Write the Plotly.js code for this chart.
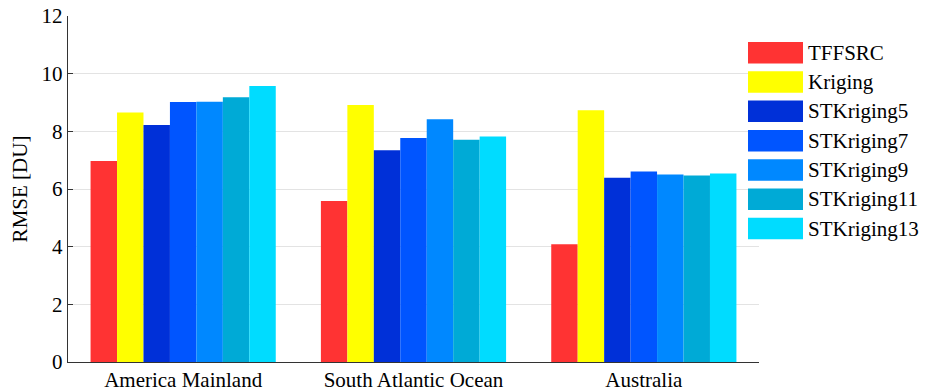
<!DOCTYPE html>
<html>
<head>
<meta charset="utf-8">
<script src="https://cdn.plot.ly/plotly-3.0.1.min.js"></script>
<style>
  html, body { margin: 0; padding: 0; background: #ffffff; }
  #chart { width: 932px; height: 390px; }
</style>
</head>
<body>
<div id="chart"></div>
<script>
// Regions on the x axis
const regions = ['America Mainland', 'South Atlantic Ocean', 'Australia'];

// RMSE [DU] per method, one value per region
const seriesNames = ['TFFSRC', 'Kriging', 'STKriging5', 'STKriging7', 'STKriging9', 'STKriging11', 'STKriging13'];
const tffsrc      = [6.97, 5.58, 4.08];
const kriging     = [8.65, 8.91, 8.73];
const stkriging5  = [8.22, 7.34, 6.39];
const stkriging7  = [9.02, 7.77, 6.61];
const stkriging9  = [9.03, 8.42, 6.50];
const stkriging11 = [9.18, 7.71, 6.47];
const stkriging13 = [9.57, 7.82, 6.54];

const seriesValues = [tffsrc, kriging, stkriging5, stkriging7, stkriging9, stkriging11, stkriging13];
const seriesColors = ['#ff3333', '#ffff00', '#0030d8', '#0055ff', '#0088ff', '#00aad6', '#00dcff'];

const yTicks = [0, 2, 4, 6, 8, 10, 12];

const serif = 'Liberation Serif, Times New Roman, serif';
const fs = 21;

const traces = seriesNames.map((name, i) => ({
  type: 'bar',
  name: name,
  x: regions,
  y: seriesValues[i],
  marker: { color: seriesColors[i], line: { width: 0 } },
  hoverinfo: 'x+y+name'
}));

// Legend drawn as wide swatches with labels to the right of the axes
const shapes = [];
const annotations = [];
const legTop = 42, rowStep = 29.3, swH = 21.5, swX0 = 748, swX1 = 803;
seriesNames.forEach((name, i) => {
  const y0 = legTop + i * rowStep;
  shapes.push({
    type: 'rect', xref: 'paper', yref: 'paper',
    x0: (swX0 - 68) / 691, x1: (swX1 - 68) / 691,
    y0: (362 - y0) / 346, y1: (362 - y0 - swH) / 346,
    fillcolor: seriesColors[i], line: { width: 0 }, layer: 'above'
  });
  annotations.push({
    xref: 'paper', yref: 'paper',
    x: (806 - 68) / 691, y: (362 - y0 - swH / 2) / 346,
    xanchor: 'left', yanchor: 'middle', showarrow: false,
    text: name, font: { family: serif, size: fs, color: '#000000' }
  });
});
// White panel behind the legend, covering the grid under it
shapes.unshift({
  type: 'rect', xref: 'paper', yref: 'paper',
  x0: (742 - 68) / 691, x1: 1.3, y0: 0.02, y1: 1.0,
  fillcolor: '#ffffff', line: { width: 0 }, layer: 'below'
});

const layout = {
  width: 932, height: 390,
  margin: { l: 68, r: 173, t: 16, b: 28 },
  paper_bgcolor: '#ffffff', plot_bgcolor: 'rgba(0,0,0,0)',
  barmode: 'group',
  bargap: 0.196,
  bargroupgap: 0,
  showlegend: false,
  font: { family: serif, size: fs, color: '#000000' },
  xaxis: {
    type: 'category',
    range: [-0.5, 2.5],
    showline: true, linecolor: '#333333', linewidth: 1.3,
    ticks: '', showgrid: false, zeroline: false,
    tickfont: { family: serif, size: fs, color: '#000000' },
    ticklabelstandoff: -2
  },
  yaxis: {
    range: [0, 12],
    tickvals: yTicks,
    ticktext: yTicks.map(String),
    showline: true, linecolor: '#333333', linewidth: 1.3,
    ticks: 'inside', ticklen: 5, tickcolor: '#333333',
    showgrid: true, gridcolor: '#e3e3e3', gridwidth: 1,
    zeroline: false,
    tickfont: { family: serif, size: fs, color: '#000000' },
    title: { text: 'RMSE [DU]', font: { family: serif, size: fs, color: '#000000' }, standoff: 8 }
  },
  shapes: shapes,
  annotations: annotations
};

Plotly.newPlot('chart', traces, layout, { displayModeBar: false, staticPlot: true });
</script>
</body>
</html>
